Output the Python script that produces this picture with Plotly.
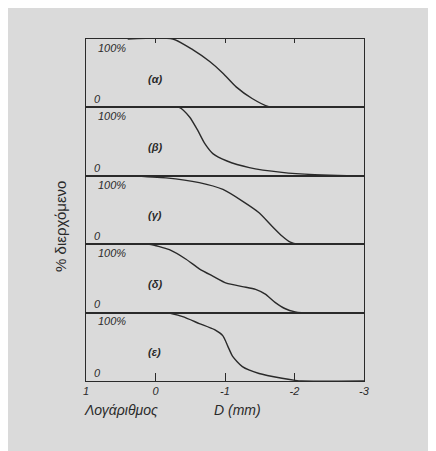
import plotly.graph_objects as go
from plotly.subplots import make_subplots

# Data (log10 D in mm vs % passing)
panel_labels = ["(α)", "(β)", "(γ)", "(δ)", "(ε)"]
d_a = [0.4, -0.25, -0.54, -0.78, -0.97, -1.16, -1.39, -1.63, -1.75, -3.0]
p_a = [100, 100, 84, 67, 50, 30, 13, 1, 0, 0]
d_b = [0.4, -0.34, -0.49, -0.61, -0.71, -0.83, -1.02, -1.35, -1.82, -2.29, -2.75, -3.0]
p_b = [100, 100, 86, 66, 47, 32, 22, 12, 5, 1.5, 0, 0]
d_c = [0.4, -0.15, -0.63, -0.97, -1.25, -1.49, -1.68, -1.82, -1.94, -2.05, -3.0]
p_c = [100, 97, 90, 80, 63, 46, 26, 12, 3, 0, 0]
d_d = [0.4, 0.09, -0.20, -0.44, -0.63, -0.83, -1.02, -1.25, -1.44, -1.58, -1.72, -1.86, -2.01, -2.1, -3.0]
p_d = [100, 100, 92, 78, 64, 53, 43, 38, 34, 27, 15, 6, 1, 0, 0]
d_e = [0.4, -0.15, -0.39, -0.63, -0.85, -0.97, -1.04, -1.11, -1.25, -1.49, -1.82, -2.01, -2.1, -3.0]
p_e = [100, 100, 94, 84, 75, 66, 51, 36, 21, 11, 4, 1, 0, 0]
series = [(d_a, p_a), (d_b, p_b), (d_c, p_c), (d_d, p_d), (d_e, p_e)]
tick_vals = [1, 0, -1, -2, -3]
tick_text = ["1", "0", "-1", "-2", "-3"]

ink = "#2a2a2a"
fig = make_subplots(rows=5, cols=1, shared_xaxes=True, vertical_spacing=0)

for i, (dx, py) in enumerate(series):
    fig.add_trace(go.Scatter(x=dx, y=py, mode="lines", line=dict(color=ink, width=1.4, shape="spline", smoothing=0.6),
                             showlegend=False, hoverinfo="skip"), row=i + 1, col=1)

for i in range(5):
    r = i + 1
    fig.update_yaxes(range=[0, 100], showticklabels=False, ticks="", showgrid=False, zeroline=False,
                     showline=True, mirror=True, linecolor=ink, linewidth=1.3, row=r, col=1)
    fig.update_xaxes(range=[1, -3], showgrid=False, zeroline=False, showline=True, mirror=True,
                     linecolor=ink, linewidth=1.3, showticklabels=False, ticks="", row=r, col=1)

fig.update_xaxes(side="top", ticks="inside", ticklen=4, tickwidth=1.2, tickcolor=ink,
                 tickvals=[0, -1, -2], row=1, col=1)
fig.update_xaxes(ticks="inside", ticklen=8, tickwidth=1.2, tickcolor=ink, tickvals=tick_vals,
                 ticktext=tick_text, showticklabels=True,
                 tickfont=dict(family="Liberation Sans", size=11, color=ink, style="italic"), row=5, col=1)

tfont = dict(family="Liberation Sans", size=11, color=ink, style="italic")
for i, lab in enumerate(panel_labels):
    yref = "y domain" if i == 0 else f"y{i+1} domain"
    fig.add_annotation(text="100%", xref="paper", yref=yref, x=0.094, y=0.87, xanchor="center", yanchor="middle",
                       showarrow=False, font=tfont)
    fig.add_annotation(text="0", xref="paper", yref=yref, x=0.04, y=0.12, xanchor="center", yanchor="middle",
                       showarrow=False, font=tfont)
    fig.add_annotation(text="<b>" + lab + "</b>", xref="paper", yref=yref, x=0.248, y=0.42,
                       xanchor="center", yanchor="middle", showarrow=False,
                       font=dict(family="Liberation Sans", size=11, color=ink, style="italic"))

fig.add_annotation(text="Λογάριθμος", xref="paper", yref="paper", x=-0.015, y=-0.085, xanchor="left",
                   yanchor="middle", showarrow=False,
                   font=dict(family="Liberation Sans", size=14, color=ink, style="italic"))
fig.add_annotation(text="D (mm)", xref="paper", yref="paper", x=0.455, y=-0.085, xanchor="left",
                   yanchor="middle", showarrow=False,
                   font=dict(family="Liberation Sans", size=14, color=ink, style="italic"))
fig.add_annotation(text="% διερχόμενο", xref="paper", yref="paper", x=-0.094, y=0.453, textangle=-90,
                   xanchor="center", yanchor="middle", showarrow=False,
                   font=dict(family="Liberation Sans", size=15, color=ink))

# page body adds an 8px offset, so the figure fills the window from (8, 8)
fig.update_layout(width=428, height=443, margin=dict(l=78, r=72, t=31, b=70, autoexpand=False),
                  paper_bgcolor="#dadada", plot_bgcolor="rgba(0,0,0,0)")
fig.write_html("out.html")
